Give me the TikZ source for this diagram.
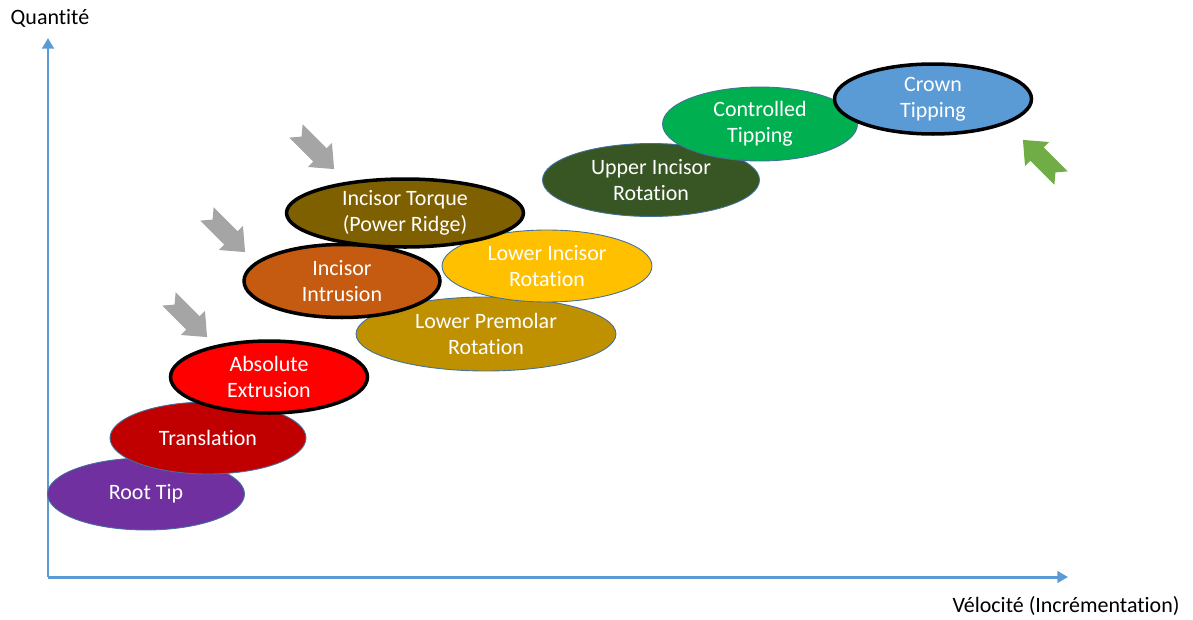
\documentclass[tikz,border=0pt]{standalone}
\usepackage{fontspec}
\setmainfont{Carlito}[Ligatures=NoCommon]
\usetikzlibrary{arrows.meta}
\usetikzlibrary{shapes.geometric}

\definecolor{axisblue}{HTML}{5B9BD5}
\definecolor{edgeblue}{HTML}{41719C}
\definecolor{rootpurple}{HTML}{7030A0}
\definecolor{transred}{HTML}{C00000}
\definecolor{extrred}{HTML}{FF0000}
\definecolor{introrange}{HTML}{C55A11}
\definecolor{torquebrown}{HTML}{7F6000}
\definecolor{premgold}{HTML}{BF9000}
\definecolor{lowyellow}{HTML}{FFC000}
\definecolor{updarkgreen}{HTML}{375623}
\definecolor{ctrlgreen}{HTML}{00B050}
\definecolor{crownblue}{HTML}{5B9BD5}
\definecolor{arrowgray}{HTML}{A5A5A5}
\definecolor{arrowgreen}{HTML}{70AD47}

\tikzset{
  blob/.style={ellipse, inner sep=0pt, text=white, align=center,
    font=\fontsize{12.5}{15}\selectfont},
  thinblob/.style={blob, draw=edgeblue, line width=0.5pt},
  boldblob/.style={blob, draw=black, line width=2pt},
  notcharrow/.pic={
    \fill (-27,-9.5) -- (7,-9.5) -- (7,-17) -- (27,0) -- (7,17) -- (7,9.5)
      -- (-27,9.5) -- (-19,0) -- cycle;
  }
}

\begin{document}
\begin{tikzpicture}[x=0.02cm, y=-0.02cm]

    \useasboundingbox (0,0) rectangle (1193,619);

    % axes
    \coordinate (origin) at (48,577);
    \coordinate (ytop) at (48,38);
    \coordinate (xend) at (1068,577);
    \draw[axisblue, line width=1.7pt, -{Triangle[length=6pt,width=6.5pt]}] (origin) -- (ytop);
    \draw[axisblue, line width=1.7pt, -{Triangle[length=6pt,width=6.5pt]}] (origin) -- (xend);
    \node[font=\fontsize{12.5}{15}\selectfont] (quant) at (50,18) {Quantité};
    \node[font=\fontsize{12.5}{15}\selectfont] (veloc) at (1066,606) {Vélocité (Incrémentation)};

    % movements
    \node[thinblob, fill=rootpurple, minimum width=3.94cm, minimum height=1.44cm] (root) at (146,494) {Root Tip};
    \node[thinblob, fill=transred, minimum width=3.92cm, minimum height=1.44cm] (trans) at (208,438) {Translation};
    \node[boldblob, fill=extrred, minimum width=3.94cm, minimum height=1.44cm] (extr) at (269,377) {Absolute\\Extrusion};
    \node[thinblob, fill=premgold, minimum width=5.2cm, minimum height=1.48cm] (prem) at (486,334) {Lower Premolar\\Rotation};
    \node[thinblob, fill=lowyellow, minimum width=4.2cm, minimum height=1.44cm] (lowinc) at (547,266) {Lower Incisor\\Rotation};
    \node[boldblob, fill=torquebrown, minimum width=4.74cm, minimum height=1.36cm] (torque) at (405,213) {Incisor Torque\\(Power Ridge)};
    \node[boldblob, fill=introrange, minimum width=3.92cm, minimum height=1.46cm] (intr) at (342,281) {Incisor\\Intrusion};
    \node[thinblob, fill=updarkgreen, minimum width=4.34cm, minimum height=1.46cm] (upinc) at (651,180) {Upper Incisor\\Rotation};
    \node[thinblob, fill=ctrlgreen, minimum width=3.9cm, minimum height=1.48cm] (ctrl) at (760,124) {Controlled\\Tipping};
    \node[boldblob, fill=crownblue, minimum width=3.94cm, minimum height=1.40cm] (crown) at (933,99) {Crown\\Tipping};

    % pointers
    \pic[arrowgray, rotate=-45] at (315,150) {notcharrow};
    \pic[arrowgray, rotate=-45] at (226,233) {notcharrow};
    \pic[arrowgray, rotate=-45] at (188,318) {notcharrow};
    \pic[arrowgreen, rotate=135] at (1042,159) {notcharrow};

\end{tikzpicture}
\end{document}
